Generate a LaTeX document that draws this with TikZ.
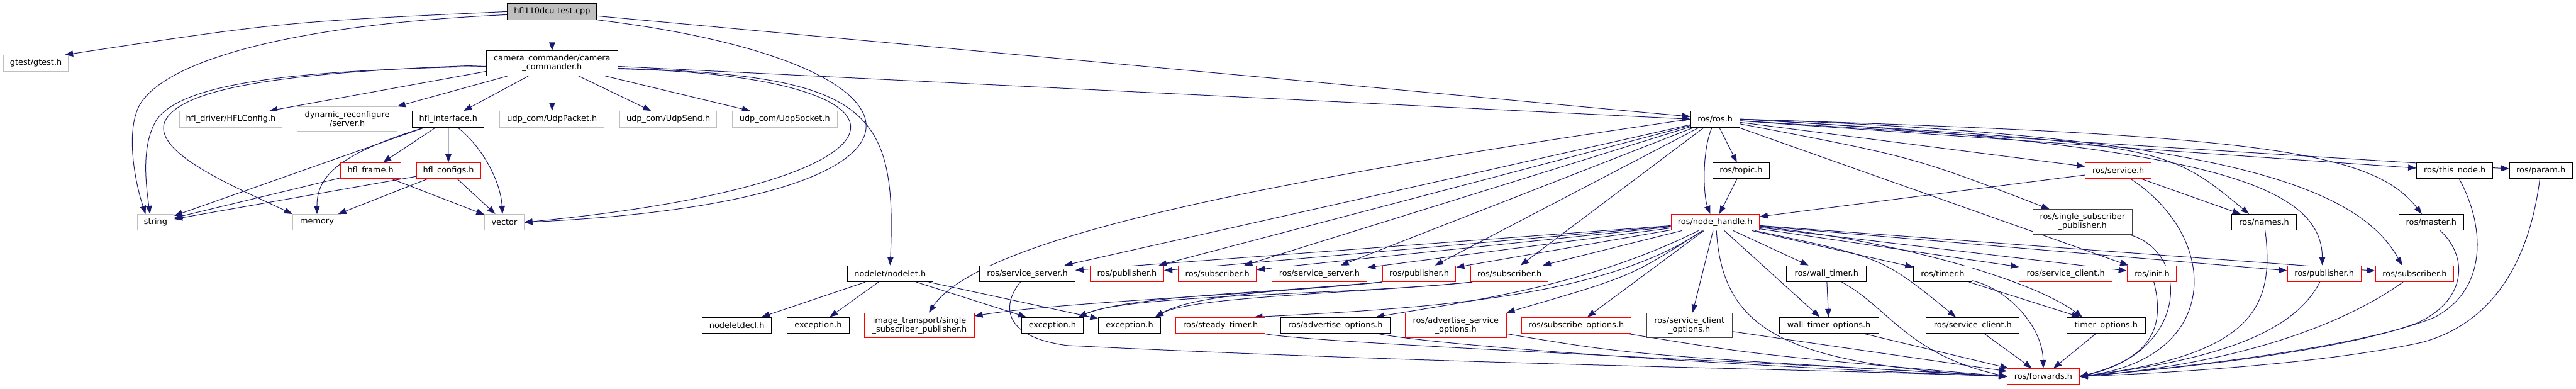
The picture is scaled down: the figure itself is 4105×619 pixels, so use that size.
\documentclass[tikz,border=0pt]{standalone}
\usepackage{fontspec}
\setmainfont{DejaVu Sans}
\usepackage{tikz}
\usetikzlibrary{arrows.meta,backgrounds}
\definecolor{edgeblue}{RGB}{25,25,112}
\definecolor{boxgray}{RGB}{191,191,191}
\definecolor{boxdark}{RGB}{64,64,64}
\tikzset{
  hdr/.style={draw=black, fill=white, line width=1pt, inner sep=0pt, minimum height=25.5pt, align=center, font=\fontsize{12.9}{14}\selectfont},
  ext/.style={hdr, draw=boxgray},
  trunc/.style={hdr, draw=red},
  dim/.style={hdr, draw=boxdark},
  two/.style={minimum height=39.5pt},
  inc/.style={draw=edgeblue, line width=1pt, -{Triangle[length=13pt,width=9.5pt]}}
}

\begin{document}
\begin{tikzpicture}[x=1pt, y=-1pt]
\useasboundingbox (0,0) rectangle (4105,619);

\node[hdr, fill=boxgray, minimum width=142.4pt] (cpp) at (879.8,18.4) {hfl110dcu-test.cpp};

\node[ext, minimum width=103.5pt] (gtest) at (57.2,100.5) {gtest/gtest.h};
\node[hdr, two, minimum width=209.5pt] (cam) at (879.8,100.7) {camera\_commander/camera\\\_commander.h};

\node[ext, minimum width=163.9pt] (hflcfg) at (367.7,189.7) {hfl\_driver/HFLConfig.h};
\node[ext, two, minimum width=158.6pt] (dynrec) at (553.3,189.7) {dynamic\_reconfigure\\/server.h};
\node[hdr, minimum width=114.5pt] (hflif) at (714.3,189.7) {hfl\_interface.h};
\node[ext, minimum width=166.5pt] (udppkt) at (879.8,189.7) {udp\_com/UdpPacket.h};
\node[ext, minimum width=154pt] (udpsend) at (1065,189.7) {udp\_com/UdpSend.h};
\node[ext, minimum width=167pt] (udpsock) at (1250.5,189.7) {udp\_com/UdpSocket.h};
\node[hdr, minimum width=78.2pt] (rosh) at (2733.1,189.7) {ros/ros.h};

\node[trunc, minimum width=96pt] (hflframe) at (590.4,271.8) {hfl\_frame.h};
\node[trunc, minimum width=102.3pt] (hflconfigs) at (714.6,271.8) {hfl\_configs.h};
\node[hdr, minimum width=91pt] (topic) at (2774.5,271.8) {ros/topic.h};
\node[trunc, minimum width=105pt] (service) at (3375.5,271.8) {ros/service.h};
\node[hdr, minimum width=121.4pt] (thisnode) at (3911.7,271.8) {ros/this\_node.h};
\node[hdr, minimum width=100pt] (param) at (4049,271.8) {ros/param.h};

\node[ext, minimum width=58.5pt] (string) at (248,354) {string};
\node[ext, minimum width=77.3pt] (memory) at (505.1,354) {memory};
\node[ext, minimum width=62.5pt] (vector) at (803.7,354) {vector};
\node[trunc, minimum width=140.7pt] (nh) at (2733.2,354) {ros/node\_handle.h};
\node[dim, two, minimum width=158.5pt] (ssp) at (3318.5,353.3) {ros/single\_subscriber\\\_publisher.h};
\node[hdr, minimum width=102.9pt] (names) at (3608,354) {ros/names.h};
\node[hdr, minimum width=102.6pt] (master) at (3874.3,354) {ros/master.h};

\node[hdr, minimum width=135.8pt] (nodelet) at (1418.4,435.8) {nodelet/nodelet.h};
\node[hdr, minimum width=151.7pt] (srvsrvA) at (1637.2,435.8) {ros/service\_server.h};
\node[trunc, minimum width=117.4pt] (pubA) at (1795.9,435.8) {ros/publisher.h};
\node[trunc, minimum width=124.1pt] (subA) at (1940,435.8) {ros/subscriber.h};
\node[trunc, minimum width=151.9pt] (srvsrvB) at (2102.5,435.8) {ros/service\_server.h};
\node[trunc, minimum width=117pt] (pubC) at (2261.5,435.8) {ros/publisher.h};
\node[trunc, minimum width=123.6pt] (subC) at (2405.4,435.8) {ros/subscriber.h};
\node[hdr, minimum width=126.8pt] (walltimer) at (2910.6,435.8) {ros/wall\_timer.h};
\node[hdr, minimum width=92.4pt] (timer) at (3095.7,435.8) {ros/timer.h};
\node[trunc, minimum width=148.2pt] (srvcliA) at (3291.9,435.8) {ros/service\_client.h};
\node[trunc, minimum width=78.7pt] (init) at (3429,435.8) {ros/init.h};
\node[trunc, minimum width=117.4pt] (pubB) at (3703.7,435.8) {ros/publisher.h};
\node[trunc, minimum width=125pt] (subB) at (3847.8,435.8) {ros/subscriber.h};

\node[hdr, minimum width=110.6pt] (decl) at (1174.3,518) {nodeletdecl.h};
\node[hdr, minimum width=98.5pt] (excA) at (1303.8,518) {exception.h};
\node[trunc, two, minimum width=174.5pt] (imgtr) at (1465.2,518) {image\_transport/single\\\_subscriber\_publisher.h};
\node[hdr, minimum width=98.1pt] (excB) at (1677,518) {exception.h};
\node[hdr, minimum width=98.7pt] (excC) at (1800,518) {exception.h};
\node[trunc, minimum width=142.5pt] (steady) at (1945,518) {ros/steady\_timer.h};
\node[hdr, minimum width=174pt] (advopt) at (2128,518) {ros/advertise\_options.h};
\node[trunc, two, minimum width=160.8pt] (advsrvopt) at (2319.9,518) {ros/advertise\_service\\\_options.h};
\node[trunc, minimum width=174.6pt] (subopt) at (2511.7,518) {ros/subscribe\_options.h};
\node[dim, two, minimum width=136.2pt] (srvcliopt) at (2692.1,518) {ros/service\_client\\\_options.h};
\node[hdr, minimum width=158.5pt] (walltimeropt) at (2914.5,518) {wall\_timer\_options.h};
\node[hdr, minimum width=148.3pt] (srvcliB) at (3143.7,518) {ros/service\_client.h};
\node[hdr, minimum width=125pt] (timeropt) at (3356.2,518) {timer\_options.h};

\node[trunc, minimum width=114.7pt] (fwd) at (3256,599.5) {ros/forwards.h};

\begin{scope}[on background layer]
\draw[inc] (cpp.west) .. controls (450,35) .. ([xshift=-6pt]gtest.north east);
\draw[inc] ([yshift=-5pt]cpp.west) .. controls (450,40) and (260,100) .. (222,168) .. controls (200,210) and (215,290) .. ([xshift=-16pt]string.north);
\draw[inc] (cpp) -- (cam);
\draw[inc] ([yshift=-7pt]cpp.east) -- ([yshift=4pt]rosh.west);
\draw[inc] (cpp.south east) .. controls (1520,100) and (1560,320) .. (vector.east);

\draw[inc] ([yshift=-5pt]cam.west) .. controls (450,112) and (290,135) .. (250,190) .. controls (225,230) and (232,290) .. ([xshift=-9pt]string.north);
\draw[inc] ([yshift=-3pt]cam.west) .. controls (450,115) and (285,140) .. (262,195) .. controls (245,245) and (380,300) .. (memory.north west);
\draw[inc] ([yshift=-13pt]cam.west) -- ([xshift=-21pt]hflcfg.north east);
\draw[inc] ([xshift=34.6pt]cam.south west) -- (dynrec.north east);
\draw[inc] (cam) -- (hflif);
\draw[inc] (cam) -- (udppkt);
\draw[inc] (cam) -- (udpsend);
\draw[inc] (cam) -- (udpsock);
\draw[inc] ([yshift=-9pt]cam.east) .. controls (1500,120) and (1500,290) .. (vector.east);
\draw[inc] ([yshift=-5pt]cam.east) -- (rosh.west);
\draw[inc] ([yshift=-8pt]cam.east) .. controls (1380,120) and (1430,170) .. (nodelet.north);

\draw[inc] (hflif) -- (string);
\draw[inc] ([xshift=-38pt]hflif.south) .. controls (540,245) and (505,280) .. (memory.north);
\draw[inc] (hflif) -- (hflframe);
\draw[inc] (hflif) -- (hflconfigs);
\draw[inc] ([xshift=15pt]hflif.south) .. controls (770,235) and (798,290) .. ([xshift=-3pt]vector.north);
\draw[inc] (hflframe) -- (string);
\draw[inc] (hflframe) -- (vector);
\draw[inc] (hflconfigs) -- (string);
\draw[inc] (hflconfigs) -- (memory);
\draw[inc] (hflconfigs) -- (vector);

\draw[inc] (nodelet) -- (decl);
\draw[inc] (nodelet) -- (excA);
\draw[inc] (nodelet) -- (excB);
\draw[inc] (nodelet) -- (excC);

\draw[inc] ([xshift=-5pt]rosh.south) .. controls (2712,240) and (2714,310) .. ([xshift=-8pt]nh.north);
\draw[inc] (rosh) -- (topic);
\draw[inc] (topic) -- (nh);
\draw[inc] (rosh) -- (service);
\draw[inc] (rosh) .. controls (3050,250) .. (ssp);
\draw[inc] (rosh) -- (init);
\draw[inc] (rosh.east) .. controls (3450,230) .. ([xshift=-24pt]names.north);
\draw[inc] (rosh.east) .. controls (3600,215) and (3780,240) .. ([xshift=-15pt]master.north);
\draw[inc] (rosh) -- (thisnode);
\draw[inc] (rosh) -- (param);
\draw[inc] (rosh.east) .. controls (3500,230) and (3700,290) .. ([xshift=-3pt]pubB.north);
\draw[inc] (rosh.east) .. controls (3550,215) and (3760,300) .. ([xshift=-20pt]subB.north);
\draw[inc] (rosh.west) .. controls (2000,290) and (1560,380) .. ([xshift=15pt]imgtr.north);
\draw[inc] (rosh) -- (srvsrvA);
\draw[inc] (rosh) -- (pubA);
\draw[inc] (rosh) -- (subA);
\draw[inc] (rosh) -- (srvsrvB);
\draw[inc] (rosh) -- (pubC);
\draw[inc] (rosh) -- (subC);

\draw[inc] (service) -- (nh);
\draw[inc] (service) -- (names);
\draw[inc] (service) .. controls (3540,380) and (3540,570) .. (fwd.east);
\draw[inc] (ssp) .. controls (3490,400) and (3490,560) .. (fwd.east);
\draw[inc] (init) .. controls (3450,520) and (3430,570) .. (fwd.east);
\draw[inc] (names) .. controls (3625,490) and (3590,565) .. (fwd.east);
\draw[inc] (pubB) .. controls (3660,520) and (3560,570) .. (fwd.east);
\draw[inc] (subB) .. controls (3730,520) and (3560,580) .. (fwd.east);
\draw[inc] (master) .. controls (3935,410) and (3930,480) .. (3850,515) .. controls (3720,562) and (3450,588) .. (fwd.east);
\draw[inc] (thisnode) .. controls (3960,360) and (3965,460) .. (3880,505) .. controls (3760,555) and (3450,588) .. (fwd.east);
\draw[inc] (param) .. controls (4030,420) and (3970,515) .. (3860,545) .. controls (3700,580) and (3450,594) .. (fwd.east);

\draw[inc] (nh) -- (srvsrvA);
\draw[inc] (nh) -- (pubA);
\draw[inc] (nh) -- (subA);
\draw[inc] (nh) -- (srvsrvB);
\draw[inc] (nh) -- (pubC);
\draw[inc] (nh) -- (subC);
\draw[inc] (nh) .. controls (2560,470) and (2300,490) .. ([xshift=-18pt]steady.north east);
\draw[inc] (nh) .. controls (2530,455) and (2350,478) .. ([xshift=-23pt]advopt.north east);
\draw[inc] (nh) .. controls (2600,440) .. (advsrvopt.north east);
\draw[inc] (nh) -- (subopt);
\draw[inc] (nh) -- (srvcliopt);
\draw[inc] ([xshift=2pt]nh.south) .. controls (2745,530) and (2850,580) .. (fwd.west);
\draw[inc] (nh) -- (walltimer);
\draw[inc] (nh) -- (walltimeropt);
\draw[inc] (nh) -- (timer);
\draw[inc] (nh) .. controls (3000,410) .. ([xshift=-27pt]srvcliB.north);
\draw[inc] (nh) -- (srvcliA);
\draw[inc] (nh) .. controls (3000,380) and (3230,440) .. ([xshift=-38pt]timeropt.north);
\draw[inc] (nh) -- (init);
\draw[inc] (nh) -- (pubB);
\draw[inc] (nh) -- (subB);

\draw[inc] (pubC.south west) .. controls (2000,470) and (1700,480) .. ([yshift=15pt]imgtr.east);
\draw[inc] (pubC.south west) .. controls (2050,465) and (1800,470) .. ([xshift=-8pt]excB.north east);
\draw[inc] (pubC.south west) .. controls (2050,462) and (1900,470) .. ([xshift=-9pt]excC.north east);
\draw[inc] ([xshift=3pt]subC.south west) .. controls (2150,470) and (1800,468) .. ([xshift=-8pt]excB.north east);
\draw[inc] ([xshift=3pt]subC.south west) .. controls (2150,468) and (1900,472) .. ([xshift=-9pt]excC.north east);

\draw[inc] (walltimer) -- (walltimeropt);
\draw[inc] (walltimer) .. controls (3010,490) and (3040,565) .. (fwd.west);
\draw[inc] (walltimeropt) -- (fwd);
\draw[inc] (srvcliB) -- (fwd);
\draw[inc] (timer) -- (timeropt);
\draw[inc] (timer) .. controls (3200,460) and (3255,520) .. (fwd.north);
\draw[inc] (timeropt) -- (fwd);
\draw[inc] (srvsrvA) .. controls (1600,480) and (1590,535) .. (1700,550) .. controls (2300,580) and (2900,588) .. (fwd.west);
\draw[inc] (steady) .. controls (2100,548) and (2900,580) .. (fwd.west);
\draw[inc] (advopt) .. controls (2300,552) and (2800,585) .. (fwd.west);
\draw[inc] (advsrvopt) .. controls (2600,565) .. (fwd.west);
\draw[inc] (subopt) .. controls (2800,565) .. (fwd.west);
\draw[inc] (srvcliopt) -- (fwd);
\end{scope}
\end{tikzpicture}
\end{document}
